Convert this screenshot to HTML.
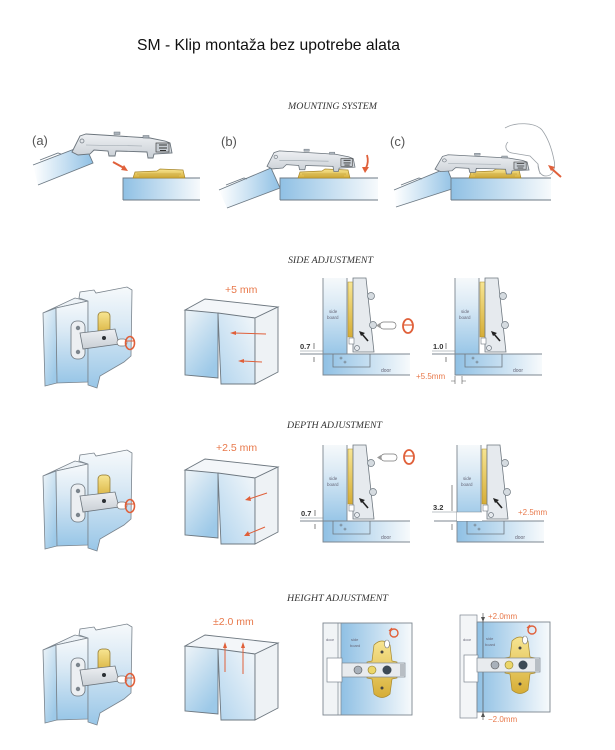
<!DOCTYPE html>
<html><head><meta charset="utf-8"><style>
html,body{margin:0;padding:0;background:#fff;}
svg{display:block;}
</style></head><body>
<svg width="615" height="750" viewBox="0 0 615 750" xmlns="http://www.w3.org/2000/svg" font-family="'Liberation Sans', sans-serif">
<defs>
<linearGradient id="bR" x1="0" y1="0" x2="1" y2="0"><stop offset="0" stop-color="#8fc0e4"/><stop offset="1" stop-color="#f7fafc"/></linearGradient>
<linearGradient id="bL" x1="1" y1="0" x2="0" y2="0"><stop offset="0" stop-color="#8fc0e4"/><stop offset="0.45" stop-color="#c4def1"/><stop offset="1" stop-color="#ffffff"/></linearGradient>
<linearGradient id="bV" x1="0" y1="0" x2="0" y2="1"><stop offset="0" stop-color="#f6f9fb"/><stop offset="0.35" stop-color="#dbeaf5"/><stop offset="1" stop-color="#98c6e7"/></linearGradient>
<linearGradient id="bD" x1="0" y1="0" x2="0.6" y2="1"><stop offset="0" stop-color="#eef4f8"/><stop offset="1" stop-color="#9dc9e8"/></linearGradient>
<linearGradient id="bD2" x1="1" y1="0" x2="0" y2="1"><stop offset="0" stop-color="#f3f7fa"/><stop offset="1" stop-color="#b3d5ee"/></linearGradient>
<linearGradient id="gold" x1="0" y1="0" x2="0" y2="1"><stop offset="0" stop-color="#f7e592"/><stop offset="1" stop-color="#d6ad36"/></linearGradient>
<linearGradient id="hg" x1="0" y1="0" x2="0" y2="1"><stop offset="0" stop-color="#eef0f3"/><stop offset="1" stop-color="#c9cfd5"/></linearGradient>

<g id="hinge">
 <path d="M0,19 L8,3 L14,1 L78,5 L93,8 L98,10 L100,20 L82,21 L81,25 L76,25 L75,19 L44,18 L43,23 L37,23 L36,18 L22,17 L18,21 L6,22 Z" fill="url(#hg)" stroke="#6b747c" stroke-width="0.9"/>
 <rect x="42" y="-1" width="6" height="2.5" fill="#aab2ba" stroke="#6b747c" stroke-width="0.5"/>
 <rect x="71" y="2.5" width="6" height="2.5" fill="#aab2ba" stroke="#6b747c" stroke-width="0.5"/>
 <rect x="84" y="10" width="13" height="9" fill="#c6ccd2" stroke="#444" stroke-width="0.7"/>
 <path d="M87,12 h8 M87,15 h8 M88,17.5 h6" stroke="#333" stroke-width="1"/>
 <circle cx="10" cy="8" r="2" fill="none" stroke="#6b747c" stroke-width="0.7"/>
 <path d="M14,12 L70,13" stroke="#9aa3ab" stroke-width="0.6"/>
</g>
<g id="plate">
 <path d="M0,8 L2,2 L24,1 L27,-1 L50,0 L52,8 Z" fill="url(#gold)" stroke="#a8872a" stroke-width="0.7"/>
 <path d="M4,4 L48,4 M6,6 L46,6" stroke="#b8962e" stroke-width="0.5"/>
</g>

<g id="cab">
 <polygon points="43,313 75,298 88,301 56,308" fill="#eef3f7" stroke="#7a848d" stroke-width="0.8"/>
 <polygon points="43,313 56,308 57,383 45,386" fill="url(#bD)" stroke="#7a848d" stroke-width="0.8"/>
 <polygon points="56,308 88,301 88,382 57,383" fill="url(#bV)" stroke="#7a848d" stroke-width="0.8"/>
 <polygon points="79,298 80,292 94,290 96,293 127,287 132,290 131,356 124,362 112,369 100,376 97,388 88,385 88,301" fill="url(#bV)" stroke="#7a848d" stroke-width="0.8"/>
 <rect x="98" y="312" width="12" height="25" rx="4" fill="url(#gold)" stroke="#8c7228" stroke-width="0.7"/>
 <rect x="71" y="321" width="14" height="38" rx="6" fill="#eceff2" stroke="#6b747c" stroke-width="0.8"/>
 <circle cx="78" cy="328" r="2.2" fill="#7c858d"/>
 <circle cx="78" cy="352" r="2.2" fill="#7c858d"/>
 <polygon points="80,333 115,329 119,344 83,349" fill="url(#hg)" stroke="#6b747c" stroke-width="0.8"/>
 <circle cx="104" cy="338" r="2" fill="#2b2f33"/>
 <rect x="117" y="339" width="10" height="7" rx="3.5" fill="#fff" stroke="#777" stroke-width="0.7"/>
 <ellipse cx="130" cy="343" rx="4.5" ry="6.5" fill="none" stroke="#e0603a" stroke-width="1.6"/>
 <path d="M126,341 h8" stroke="#e0603a" stroke-width="1"/>
</g>

<g id="box">
 <polygon points="185,310 205,299 278,307 255,318" fill="#f3f6f9" stroke="#6e7880" stroke-width="0.9"/>
 <polygon points="185,310 218,313 218,378 185,375" fill="url(#bD)" stroke="#6e7880" stroke-width="0.9"/>
 <polygon points="218,313 255,318 255,384 221,384" fill="url(#bD2)" stroke="#6e7880" stroke-width="0.9"/>
 <polygon points="255,318 278,307 278,372 255,384" fill="#eef2f5" stroke="#6e7880" stroke-width="0.9"/>
</g>

<g id="sv">
 <rect x="323" y="354" width="87" height="21" fill="url(#bR)"/>
 <rect x="323" y="278" width="24" height="76" fill="url(#bV)"/>
 <path d="M323,278 V375 H410 M300,354 H410 M347,278 V354" stroke="#7d8790" stroke-width="0.9" fill="none"/>
 <rect x="348" y="282" width="5" height="55" fill="url(#gold)" stroke="#a88a2a" stroke-width="0.5"/>
 <path d="M353,278 L366,278 L374,352 L353,352 Z" fill="#e6eaee" stroke="#6f7880" stroke-width="0.8"/>
 <circle cx="371" cy="296" r="3.5" fill="#d5dbe0" stroke="#6f7880" stroke-width="0.7"/>
 <circle cx="373" cy="325" r="3.5" fill="#d5dbe0" stroke="#6f7880" stroke-width="0.7"/>
 <circle cx="357" cy="348" r="2.5" fill="none" stroke="#6f7880" stroke-width="0.7"/>
 <rect x="349" y="338" width="5" height="6" fill="#fff" stroke="#6f7880" stroke-width="0.6"/>
 <path d="M333,354 V367 H370 V354" fill="none" stroke="#6f7880" stroke-width="0.8"/>
 <circle cx="341" cy="358" r="1" fill="none" stroke="#6f7880" stroke-width="0.6"/>
 <circle cx="345" cy="362" r="1" fill="none" stroke="#6f7880" stroke-width="0.6"/>
 <path d="M368,341 L362,334" stroke="#222" stroke-width="1.6"/>
 <polygon points="359,331 365,333 361,336" fill="#222"/>
 <text x="329" y="313" font-size="4.5" fill="#667">side</text>
 <text x="327" y="319" font-size="4.5" fill="#667">board</text>
 <text x="381" y="372" font-size="5" fill="#667">door</text>
</g>
</defs>

<!-- Title -->
<text x="137" y="50" font-size="16" fill="#111" textLength="263" lengthAdjust="spacingAndGlyphs">SM - Klip montaža bez upotrebe alata</text>

<!-- Section headers -->
<g font-family="'Liberation Serif', serif" font-style="italic" font-size="9.5" fill="#333">
<text x="288" y="109" textLength="89" lengthAdjust="spacingAndGlyphs">MOUNTING SYSTEM</text>
<text x="288" y="263" textLength="85" lengthAdjust="spacingAndGlyphs">SIDE ADJUSTMENT</text>
<text x="287" y="428" textLength="95" lengthAdjust="spacingAndGlyphs">DEPTH ADJUSTMENT</text>
<text x="287" y="601" textLength="101" lengthAdjust="spacingAndGlyphs">HEIGHT ADJUSTMENT</text>
</g>

<!-- MOUNTING (a) -->
<g font-size="13" fill="#555">
<text x="32" y="145">(a)</text>
<text x="221" y="146">(b)</text>
<text x="390" y="146">(c)</text>
</g>
<polygon points="33,165 85,145 93,163 38,185" fill="url(#bL)"/>
<path d="M33,165 L85,145 L93,163 L38,185 M40,160 L58,153 L61,154" stroke="#6d7a85" stroke-width="0.9" fill="none"/>
<rect x="123" y="178" width="77" height="22" fill="url(#bR)"/>
<path d="M123,200 V178 H200 M123,200 H200" stroke="#6d7a85" stroke-width="0.9" fill="none"/>
<use href="#plate" transform="translate(133,170)"/>
<use href="#hinge" transform="translate(72,133)"/>
<path d="M113,162 L124,168" stroke="#e0603a" stroke-width="2"/>
<polygon points="128,171 121,170 124,165" fill="#e0603a"/>

<!-- (b) -->
<polygon points="219,190 271,168 280,188 227,208" fill="url(#bL)"/>
<path d="M219,190 L271,168 L280,188 L227,208 M226,185 L244,178 L247,179" stroke="#6d7a85" stroke-width="0.9" fill="none"/>
<rect x="280" y="178" width="98" height="22" fill="url(#bR)"/>
<path d="M280,200 V178 H378 M280,200 H378" stroke="#6d7a85" stroke-width="0.9" fill="none"/>
<use href="#plate" transform="translate(298,170)"/>
<use href="#hinge" transform="translate(267,150) scale(0.88,0.86)"/>
<path d="M367,155 Q369,162 366,168" stroke="#e0603a" stroke-width="1.8" fill="none"/>
<polygon points="362,167 369,167 365,173" fill="#e0603a"/>

<!-- (c) -->
<polygon points="394,190 447,168 455,188 396,207" fill="url(#bL)"/>
<path d="M394,190 L447,168 L455,188 L396,207 M401,185 L419,178 L422,179" stroke="#6d7a85" stroke-width="0.9" fill="none"/>
<rect x="451" y="178" width="100" height="22" fill="url(#bR)"/>
<path d="M451,200 V178 H551 M451,200 H551" stroke="#6d7a85" stroke-width="0.9" fill="none"/>
<use href="#plate" transform="translate(469,170)"/>
<use href="#hinge" transform="translate(435,154) scale(0.94,0.8)"/>
<path d="M505,128 C515,122 535,122 542,130 C548,138 552,150 554,160 C556,168 553,176 546,176 C540,176 538,170 538,164 L530,156 L512,153 C506,152 504,146 508,142" fill="#fff" stroke="#9aa0a6" stroke-width="0.8"/>
<path d="M538,164 L540,174" stroke="#9aa0a6" stroke-width="0.6" fill="none"/>
<path d="M561,177 L552,169" stroke="#e0603a" stroke-width="2"/>
<polygon points="548,165 555,167 551,171" fill="#e0603a"/>

<!-- SIDE ROW -->
<use href="#cab"/>
<use href="#box"/>
<text x="225" y="293" font-size="10.5" fill="#e8784a">+5 mm</text>
<path d="M266,334 L234,333" stroke="#e0603a" stroke-width="1"/>
<polygon points="230,333 236,331 236,335" fill="#e0603a"/>
<path d="M262,362 L242,361" stroke="#e0603a" stroke-width="1"/>
<polygon points="238,361 244,359 244,363" fill="#e0603a"/>

<use href="#sv"/>
<rect x="380" y="322" width="16" height="7" rx="3.5" fill="#fff" stroke="#777" stroke-width="0.7"/>
<path d="M376,325.5 L380,323 L380,328 Z" fill="#999"/>
<ellipse cx="408" cy="326" rx="5" ry="7" fill="none" stroke="#e0603a" stroke-width="1.8"/>
<path d="M403,325 h10" stroke="#e0603a" stroke-width="1.2"/>
<path d="M300,351 H323" stroke="#7d8790" stroke-width="0.6"/>
<text x="300" y="349" font-size="7.5" font-weight="bold" fill="#333">0.7</text>
<path d="M314,343 V349 M314,357 V362" stroke="#333" stroke-width="0.6"/>

<use href="#sv" transform="translate(132,0)"/>
<path d="M432,351 H455" stroke="#7d8790" stroke-width="0.6"/>
<text x="433" y="349" font-size="7.5" font-weight="bold" fill="#333">1.0</text>
<path d="M446,343 V349 M446,357 V362" stroke="#333" stroke-width="0.6"/>
<text x="416" y="379" font-size="8" fill="#e8784a">+5.5mm</text>
<path d="M455,376 V384 M462,376 V384 M451,381 H455 M462,381 H466" stroke="#555" stroke-width="0.6"/>

<!-- DEPTH ROW -->
<use href="#cab" transform="translate(0,163)"/>
<use href="#box" transform="translate(0,160)"/>
<text x="216" y="451" font-size="10.5" fill="#e8784a">+2.5 mm</text>
<path d="M267,493 L249,499" stroke="#e0603a" stroke-width="1"/>
<polygon points="245,500 250,496 251,501" fill="#e0603a"/>
<path d="M265,527 L248,534" stroke="#e0603a" stroke-width="1"/>
<polygon points="244,536 248,531 250,536" fill="#e0603a"/>

<use href="#sv" transform="translate(0,167)"/>
<rect x="381" y="454" width="16" height="7" rx="3.5" fill="#fff" stroke="#777" stroke-width="0.7"/>
<path d="M377,457.5 L381,455 L381,460 Z" fill="#999"/>
<ellipse cx="409" cy="457" rx="5" ry="7" fill="none" stroke="#e0603a" stroke-width="1.8"/>
<path d="M404,456 h10" stroke="#e0603a" stroke-width="1.2"/>
<path d="M300,518 H323" stroke="#7d8790" stroke-width="0.6"/>
<text x="301" y="516" font-size="7.5" font-weight="bold" fill="#333">0.7</text>
<path d="M315,510 V516 M315,524 V529" stroke="#333" stroke-width="0.6"/>

<use href="#sv" transform="translate(134,167)"/>
<rect x="457" y="512" width="25" height="9" fill="#fff"/>
<path d="M457,512 H482" stroke="#7d8790" stroke-width="0.6"/>
<path d="M432,512 H457" stroke="#7d8790" stroke-width="0.6"/>
<text x="433" y="510" font-size="7.5" font-weight="bold" fill="#333">3.2</text>
<path d="M452,485 V511 M452,524 V530" stroke="#444" stroke-width="0.6"/>
<text x="518" y="515" font-size="8" fill="#e8784a">+2.5mm</text>

<!-- HEIGHT ROW -->
<use href="#cab" transform="translate(0,337)"/>
<use href="#box" transform="translate(0,336)"/>
<text x="213" y="625" font-size="10.5" fill="#e8784a">±2.0 mm</text>
<path d="M225,672 V646 M243,674 V646" stroke="#e0603a" stroke-width="1"/>
<polygon points="225,642 223,648 227,648" fill="#e0603a"/>
<polygon points="243,642 241,648 245,648" fill="#e0603a"/>

<!-- Height cell 3 -->
<rect x="323" y="623" width="18" height="92" fill="#f1f4f6"/>
<rect x="341" y="623" width="71" height="92" fill="url(#bR)"/>
<rect x="323" y="623" width="89" height="92" fill="none" stroke="#7d8790" stroke-width="0.9"/>
<path d="M338,623 V715 M341,623 V715" stroke="#7d8790" stroke-width="0.7"/>
<rect x="327" y="658" width="15" height="24" fill="#fff" stroke="#7d8790" stroke-width="0.7"/>
<text x="326" y="641" font-size="4" fill="#667">door</text>
<text x="351" y="641" font-size="4" fill="#667">side</text>
<text x="350" y="647" font-size="4" fill="#667">board</text>
<path d="M374,645 Q382,637 390,645 L392,661 L397,662 L397,678 L392,679 L390,694 Q382,701 374,694 L372,679 L367,678 L367,662 L372,661 Z" fill="url(#gold)" stroke="#a8872a" stroke-width="0.7"/>
<rect x="342" y="663" width="63" height="14" fill="#e8ebee" stroke="#7d8790" stroke-width="0.7"/>
<rect x="400" y="664" width="5" height="12" fill="#b8bec4"/>
<circle cx="358" cy="670" r="4" fill="#a9b1ba" stroke="#555" stroke-width="0.6"/>
<circle cx="372" cy="670" r="4" fill="#ecd66a" stroke="#8a7a2a" stroke-width="0.6"/>
<circle cx="387" cy="670" r="4.5" fill="#3d4a55"/>
<circle cx="382" cy="652" r="1.5" fill="#444"/>
<circle cx="382" cy="688" r="1.5" fill="#444"/>
<ellipse cx="387" cy="644" rx="2.5" ry="4" fill="#fff" stroke="#777" stroke-width="0.6"/>
<ellipse cx="394" cy="633" rx="4" ry="4" fill="none" stroke="#e0603a" stroke-width="1.4"/>
<path d="M389,631 l3,-3" stroke="#e0603a" stroke-width="1.2"/>

<!-- Height cell 4 -->
<rect x="460" y="615" width="17" height="103" fill="#f3f5f7" stroke="#7d8790" stroke-width="0.7"/>
<rect x="477" y="622" width="73" height="90" fill="url(#bR)" stroke="#7d8790" stroke-width="0.9"/>
<rect x="464" y="655" width="14" height="27" fill="#fff" stroke="#7d8790" stroke-width="0.7"/>
<text x="463" y="641" font-size="4" fill="#667">door</text>
<text x="486" y="640" font-size="4" fill="#667">side</text>
<text x="485" y="646" font-size="4" fill="#667">board</text>
<path d="M483,613 V720" stroke="#555" stroke-width="0.7"/>
<polygon points="483,622 481,617 485,617" fill="#555"/>
<polygon points="483,712 481,717 485,717" fill="#555"/>
<text x="488" y="619" font-size="8" fill="#e8784a">+2.0mm</text>
<text x="488" y="722" font-size="8" fill="#e8784a">−2.0mm</text>
<path d="M512,641 Q520,633 528,641 L530,657 L535,658 L535,673 L530,674 L528,690 Q520,697 512,690 L510,674 L505,673 L505,658 L510,657 Z" fill="url(#gold)" stroke="#a8872a" stroke-width="0.7"/>
<rect x="477" y="658" width="63" height="14" fill="#e8ebee" stroke="#7d8790" stroke-width="0.7"/>
<rect x="535" y="659" width="5" height="12" fill="#b8bec4"/>
<circle cx="495" cy="665" r="4" fill="#a9b1ba" stroke="#555" stroke-width="0.6"/>
<circle cx="509" cy="665" r="4" fill="#ecd66a" stroke="#8a7a2a" stroke-width="0.6"/>
<circle cx="523" cy="665" r="4.5" fill="#3d4a55"/>
<circle cx="520" cy="648" r="1.5" fill="#444"/>
<circle cx="520" cy="684" r="1.5" fill="#444"/>
<ellipse cx="525" cy="640" rx="2.5" ry="4" fill="#fff" stroke="#777" stroke-width="0.6"/>
<ellipse cx="532" cy="630" rx="4" ry="4" fill="none" stroke="#e0603a" stroke-width="1.4"/>
<path d="M527,628 l3,-3" stroke="#e0603a" stroke-width="1.2"/>
</svg>
</body></html>
